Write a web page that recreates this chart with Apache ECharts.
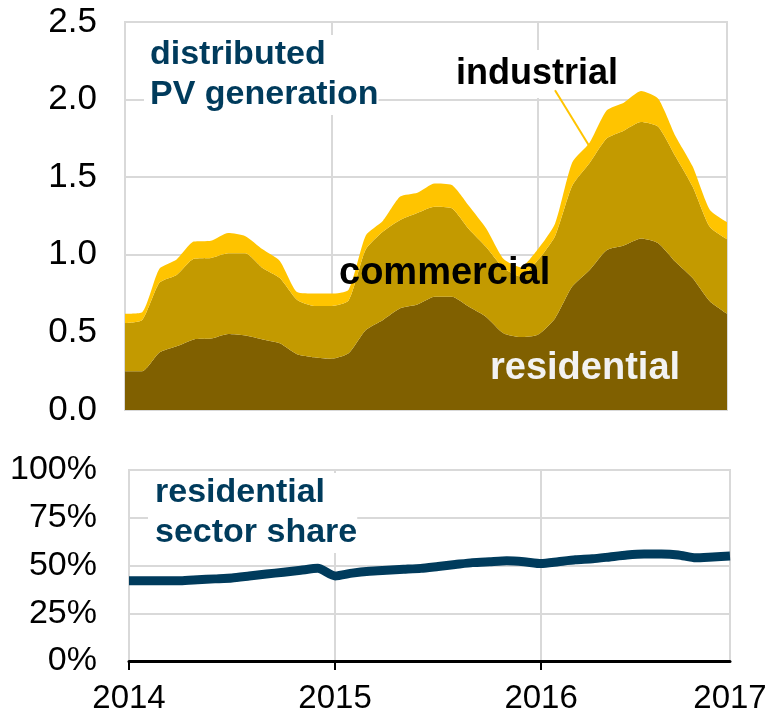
<!DOCTYPE html>
<html>
<head>
<meta charset="utf-8">
<script src="https://cdn.jsdelivr.net/npm/echarts@6/dist/echarts.min.js"></script>
<style>
  html, body { margin: 0; padding: 0; background: #fff; }
  #chart { width: 775px; height: 718px; }
</style>
</head>
<body>
<div id="chart"></div>
<script>
// monthly values, Jan 2014 .. Dec 2016 (index 0..35), TWh
const residential = [0.25, 0.25, 0.37, 0.41, 0.455, 0.46, 0.49, 0.48, 0.455, 0.43, 0.36, 0.34,
  0.33, 0.365, 0.515, 0.58, 0.655, 0.68, 0.73, 0.73, 0.665, 0.60, 0.495, 0.47,
  0.485, 0.59, 0.795, 0.90, 1.03, 1.06, 1.105, 1.075, 0.955, 0.85, 0.70, 0.62]
const commercial = [0.31, 0.33, 0.45, 0.46, 0.52, 0.52, 0.52, 0.53, 0.46, 0.42, 0.35, 0.33,
  0.34, 0.34, 0.52, 0.57, 0.57, 0.59, 0.58, 0.57, 0.50, 0.45, 0.42, 0.39,
  0.48, 0.53, 0.65, 0.69, 0.72, 0.74, 0.75, 0.75, 0.68, 0.59, 0.48, 0.48]
const industrial = [0.06, 0.05, 0.09, 0.10, 0.11, 0.11, 0.13, 0.11, 0.12, 0.11, 0.05, 0.08,
  0.08, 0.07, 0.09, 0.07, 0.15, 0.13, 0.15, 0.15, 0.15, 0.12, 0.06, 0.06,
  0.07, 0.08, 0.15, 0.13, 0.18, 0.18, 0.20, 0.18, 0.13, 0.13, 0.11, 0.11]
// residential sector share, %
const residentialShare = [42, 42, 42, 42, 42.5, 43, 43.5, 44.5, 45.5, 46.5, 47.5, 48.5,
  44.5, 46, 47, 47.5, 48, 48.5, 49.5, 50.5, 51.5, 52, 52.5, 52,
  51, 52, 53, 53.5, 54.5, 55.5, 56, 56, 55.5, 54, 54.5, 55]

// x tick positions (month index) and their labels
const xTickPos = [0, 12, 24, 35]
const xTickLabels = ['2014', '2015', '2016', '2017']

const months = []
for (let y = 2014; y <= 2016; y++) {
  for (let m = 1; m <= 12; m++) months.push(y + '-' + (m < 10 ? '0' + m : m))
}

const teal = '#003b5c'
const grey = '#d9d9d9'
const font = "'Liberation Sans', Arial, sans-serif"

const isTick = i => xTickPos.indexOf(i) !== -1

const chart = echarts.init(document.getElementById('chart'))

function areaSeries(name, data, color, extra) {
  return Object.assign({
    name: name,
    type: 'line',
    stack: 'pv',
    xAxisIndex: 0,
    yAxisIndex: 0,
    data: data,
    smooth: 0.2,
    showSymbol: false,
    lineStyle: { width: 0 },
    areaStyle: { color: color, opacity: 1 },
    itemStyle: { color: color },
    silent: true
  }, extra || {})
}

chart.setOption({
  animation: false,
  textStyle: { fontFamily: font },
  title: [{
    text: 'distributed\nPV generation',
    left: 144, top: 35,
    padding: [0, 0, 0, 6],
    backgroundColor: '#fff',
    textStyle: { color: teal, fontSize: 34, fontWeight: 'bold', lineHeight: 40, fontFamily: font }
  }, {
    text: 'industrial',
    left: 452, top: 50,
    z: 1,
    padding: [2, 4, 2, 4],
    backgroundColor: '#fff',
    textStyle: { color: '#000', fontSize: 36, fontWeight: 'bold', lineHeight: 44, fontFamily: font }
  }, {
    text: 'commercial',
    left: 339, top: 255,
    padding: 0,
    textStyle: { color: '#000', fontSize: 38, fontWeight: 'bold', lineHeight: 38, fontFamily: font }
  }, {
    text: 'residential',
    left: 490, top: 350,
    padding: 0,
    textStyle: { color: '#f2f2f2', fontSize: 38, fontWeight: 'bold', lineHeight: 38, fontFamily: font }
  }, {
    text: 'residential\nsector share',
    left: 148, top: 473,
    padding: [0, 0, 0, 7],
    backgroundColor: '#fff',
    textStyle: { color: teal, fontSize: 34, fontWeight: 'bold', lineHeight: 40, fontFamily: font }
  }],
  grid: [
    { left: 125, top: 22, width: 602, height: 388, show: true, borderColor: grey, borderWidth: 2, backgroundColor: 'transparent' },
    { left: 129, top: 470, width: 601, height: 191, show: true, borderColor: grey, borderWidth: 2, backgroundColor: 'transparent' }
  ],
  xAxis: [{
    gridIndex: 0,
    type: 'category',
    data: months,
    boundaryGap: false,
    axisLine: { show: false },
    axisTick: { show: false },
    axisLabel: { show: false },
    splitLine: { show: true, interval: (i) => isTick(i), lineStyle: { color: grey, width: 2 } }
  }, {
    gridIndex: 1,
    type: 'category',
    data: months,
    boundaryGap: false,
    axisLine: { show: true, lineStyle: { color: '#000', width: 3 } },
    axisTick: { show: true, interval: (i) => isTick(i) && i !== 35, length: 9, lineStyle: { color: '#000', width: 2 } },
    axisLabel: {
      show: true, fontSize: 33, color: '#000', margin: 21, fontFamily: font,
      interval: (i) => isTick(i),
      formatter: (v, i) => xTickLabels[xTickPos.indexOf(i)] || ''
    },
    splitLine: { show: true, interval: (i) => isTick(i), lineStyle: { color: grey, width: 2 } }
  }],
  yAxis: [{
    gridIndex: 0,
    type: 'value',
    min: 0, max: 2.5, interval: 0.5,
    axisLine: { show: false },
    axisTick: { show: false },
    axisLabel: { fontSize: 35, color: '#000', margin: 28, fontFamily: font, formatter: v => v.toFixed(1) },
    splitLine: { show: true, lineStyle: { color: grey, width: 2 } }
  }, {
    gridIndex: 1,
    type: 'value',
    min: 0, max: 100, interval: 25,
    axisLine: { show: false },
    axisTick: { show: false },
    axisLabel: { fontSize: 34, color: '#000', margin: 32, fontFamily: font, formatter: '{value}%' },
    splitLine: { show: true, lineStyle: { color: grey, width: 2 } }
  }],
  series: [
    areaSeries('residential', residential, '#806000'),
    areaSeries('commercial', commercial, '#c39a00'),
    areaSeries('industrial', industrial, '#ffc400', {
      markLine: {
        silent: true,
        symbol: ['none', 'none'],
        label: { show: false },
        lineStyle: { color: '#ffc400', width: 2, type: 'solid' },
        data: [[{ coord: [24.5, 2.06] }, { coord: [26.6, 1.70] }]]
      }
    }),
    {
      name: 'residential sector share',
      type: 'line',
      xAxisIndex: 1,
      yAxisIndex: 1,
      data: residentialShare,
      smooth: 0.2,
      showSymbol: false,
      lineStyle: { color: teal, width: 9 },
      itemStyle: { color: teal },
      silent: true
    }
  ]
})
</script>
</body>
</html>
